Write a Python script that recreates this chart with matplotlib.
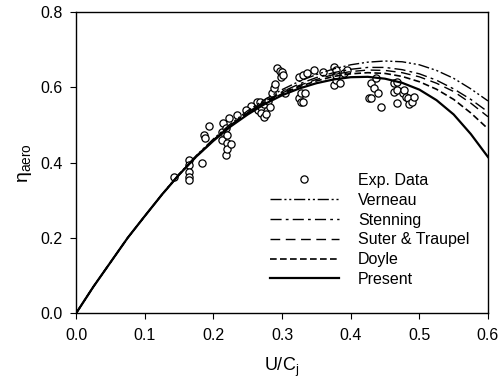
import matplotlib
matplotlib.use('Agg')
import matplotlib.pyplot as plt

plt.rcParams['font.family'] = 'Liberation Sans'
plt.rcParams['mathtext.fontset'] = 'custom'
plt.rcParams['mathtext.rm'] = 'Liberation Sans'
plt.rcParams['mathtext.it'] = 'Liberation Sans:italic'

# velocity ratio grid for the curves
u_c = [0.0, 0.025, 0.05, 0.075, 0.1, 0.125, 0.15, 0.175, 0.2, 0.225, 0.25, 0.275,
       0.3, 0.325, 0.35, 0.375, 0.4, 0.425, 0.45, 0.475, 0.5, 0.525, 0.55, 0.575, 0.6]

present = [0.0, 0.07, 0.135, 0.2, 0.258, 0.315, 0.368, 0.416, 0.458, 0.496, 0.528, 0.556,
           0.579, 0.597, 0.611, 0.621, 0.627, 0.628, 0.623, 0.612, 0.594, 0.566, 0.528, 0.476, 0.415]
doyle = [0.0, 0.07, 0.135, 0.2, 0.258, 0.315, 0.368, 0.416, 0.459, 0.498, 0.531, 0.559,
         0.583, 0.602, 0.617, 0.629, 0.636, 0.639, 0.637, 0.629, 0.615, 0.595, 0.568, 0.532, 0.49]
suter = [0.0, 0.07, 0.135, 0.2, 0.258, 0.315, 0.368, 0.417, 0.46, 0.499, 0.533, 0.561,
         0.585, 0.605, 0.621, 0.634, 0.642, 0.646, 0.645, 0.639, 0.628, 0.611, 0.589, 0.558, 0.522]
stenning = [0.0, 0.07, 0.135, 0.2, 0.258, 0.315, 0.369, 0.418, 0.461, 0.5, 0.534, 0.563,
            0.588, 0.609, 0.626, 0.639, 0.648, 0.653, 0.653, 0.647, 0.636, 0.619, 0.596, 0.568, 0.535]
verneau = [0.0, 0.07, 0.135, 0.2, 0.258, 0.316, 0.37, 0.419, 0.463, 0.503, 0.538, 0.568,
           0.594, 0.616, 0.634, 0.649, 0.66, 0.667, 0.67, 0.668, 0.66, 0.645, 0.624, 0.596, 0.564]

# experimental points
exp_x = [0.142, 0.164, 0.165, 0.165, 0.165, 0.165, 0.184, 0.186, 0.188, 0.193,
         0.213, 0.213, 0.214, 0.218, 0.218, 0.22, 0.22, 0.22, 0.222, 0.225, 0.235,
         0.26, 0.263, 0.265, 0.268, 0.269, 0.269, 0.273, 0.273, 0.276, 0.28, 0.283,
         0.286, 0.288, 0.29, 0.292, 0.255, 0.248,
         0.297, 0.298, 0.3, 0.302, 0.304, 0.324, 0.324, 0.327, 0.327, 0.33, 0.33, 0.333, 0.337, 0.346,
         0.375, 0.375, 0.378, 0.378, 0.378, 0.385, 0.39, 0.395, 0.36,
         0.427, 0.429, 0.43, 0.434, 0.437, 0.44, 0.444,
         0.463, 0.463, 0.468, 0.468, 0.468, 0.476, 0.477, 0.48, 0.483, 0.485, 0.49, 0.492]
exp_eta = [0.362, 0.407, 0.394, 0.375, 0.362, 0.354, 0.40, 0.473, 0.465, 0.497,
           0.481, 0.46, 0.505, 0.492, 0.42, 0.473, 0.452, 0.436, 0.519, 0.45, 0.527,
           0.548, 0.56, 0.54, 0.56, 0.548, 0.532, 0.521, 0.557, 0.53, 0.565, 0.548,
           0.585, 0.598, 0.61, 0.651, 0.55, 0.54,
           0.643, 0.628, 0.641, 0.633, 0.585, 0.572, 0.628, 0.585, 0.561, 0.561, 0.633, 0.585, 0.638, 0.646,
           0.654, 0.606, 0.62, 0.633, 0.646, 0.611, 0.638, 0.646, 0.64,
           0.572, 0.572, 0.611, 0.598, 0.625, 0.585, 0.548,
           0.611, 0.588, 0.614, 0.593, 0.558, 0.585, 0.593, 0.575, 0.572, 0.556, 0.561, 0.575]

fig = plt.figure(figsize=(5.01, 3.9), dpi=100)
ax = fig.add_axes([0.152, 0.197, 0.822, 0.772])

ax.plot(exp_x, exp_eta, 'o', mfc='white', mec='black', ms=5.2, mew=0.9, label='Exp. Data')
ax.plot(u_c, verneau, color='black', lw=1.0, dashes=(8, 2, 1.5, 2, 1.5, 2), label='Verneau')
ax.plot(u_c, stenning, color='black', lw=1.0, dashes=(8, 3, 2, 3), label='Stenning')
ax.plot(u_c, suter, color='black', lw=1.0, dashes=(7, 4), label='Suter & Traupel')
ax.plot(u_c, doyle, color='black', lw=1.2, dashes=(4, 2), label='Doyle')
ax.plot(u_c, present, color='black', lw=1.6, label='Present')

ax.set_xlim(0, 0.6)
ax.set_ylim(0, 0.8)
ax.set_xticks([0.0, 0.1, 0.2, 0.3, 0.4, 0.5, 0.6])
ax.set_yticks([0.0, 0.2, 0.4, 0.6, 0.8])
ax.xaxis.set_major_formatter(matplotlib.ticker.FormatStrFormatter('%.1f'))
ax.yaxis.set_major_formatter(matplotlib.ticker.FormatStrFormatter('%.1f'))
ax.tick_params(direction='out', length=4, labelsize=11.5, width=0.8)
ax.tick_params(axis='x', pad=7)
ax.tick_params(axis='y', pad=6)
for s in ax.spines.values():
    s.set_linewidth(1.0)

ax.set_xlabel(r'U/C$_\mathregular{j}$', fontsize=13, labelpad=9)
ax.set_ylabel(r'$\mathregular{\eta_{aero}}$', fontsize=14, labelpad=4)

ax.legend(loc='upper left', bbox_to_anchor=(0.455, 0.487), borderaxespad=0, frameon=False,
          fontsize=11.5, handlelength=4.3, labelspacing=0.3, handletextpad=1.2, numpoints=1)

fig.savefig('out.png', dpi=100)
